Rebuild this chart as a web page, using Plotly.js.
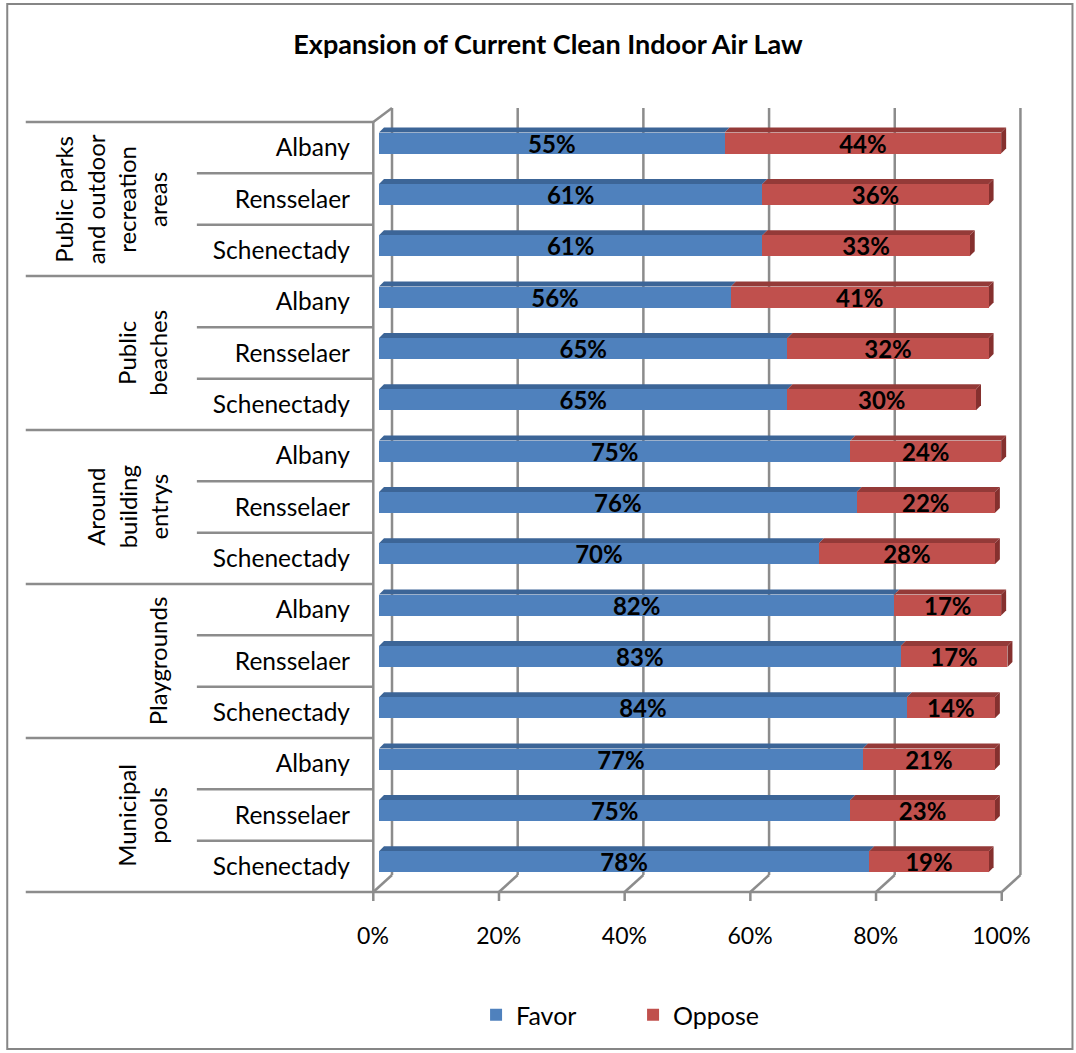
<!DOCTYPE html>
<html>
<head>
<meta charset="utf-8">
<script src="https://cdn.plot.ly/plotly-3.0.1.min.js"></script>
<style>html,body{margin:0;padding:0;background:#fff;}#chart{width:1076px;height:1053px;}</style>
</head>
<body>
<div id="chart"></div>
<script>
// ---- data ----
const groups = ["Public parks and outdoor recreation areas", "Public beaches", "Around building entrys", "Playgrounds", "Municipal pools"];
const groupLabels = ["Public parks<br>and outdoor<br>recreation<br>areas", "Public<br>beaches", "Around<br>building<br>entrys", "Playgrounds", "Municipal<br>pools"];
const cities = ["Albany", "Rensselaer", "Schenectady"];
const favor  = [55, 61, 61, 56, 65, 65, 75, 76, 70, 82, 83, 84, 77, 75, 78];
const oppose = [44, 36, 33, 41, 32, 30, 24, 22, 28, 17, 17, 14, 21, 23, 19];
const xTicks = [0, 20, 40, 60, 80, 100];

// ---- geometry / style ----
const W = 1076, H = 1053;
const ML = 379, MT = 122, MB = 161;
const XMAX = 102, UNIT = 6.28;               // px per percentage point
const plotW = XMAX * UNIT;
const MR = W - ML - plotW;
const plotH = H - MT - MB;
const px2x = p => (p - ML) / plotW;
const px2y = p => (H - MB - p) / plotH;
const FONT = "Lato, 'Open Sans', sans-serif";
const GRID = "#8c8c8c";
const BLUE = "#4f81bd", BLUE_TOP = "#3c6597";
const RED = "#c0504d", RED_TOP = "#943a38", RED_END = "#85302e";

const rows = [], tickText = [];
groups.forEach((g, gi) => cities.forEach((c, ci) => { rows.push(gi * 3 + ci); tickText.push(c); }));
const nRows = rows.length;
const rowPx = plotH / nRows;
const BARW = 21 / rowPx;         // bar thickness in rows
const LIFT = 4.6 / rowPx;        // bars sit slightly above row centres (3D depth)

const labelFont = {family: FONT, size: 24, color: "#000", weight: "bold"};
const traces = [
  {type: "bar", orientation: "h", name: "Favor", y: rows, x: favor,
   marker: {color: BLUE}, width: BARW, offset: -BARW / 2 - LIFT,
   text: favor.map(v => v + "%"), textposition: "inside", insidetextanchor: "middle",
   constraintext: "none", textfont: labelFont, hoverinfo: "skip"},
  {type: "bar", orientation: "h", name: "Oppose", y: rows, x: oppose,
   marker: {color: RED}, width: BARW, offset: -BARW / 2 - LIFT,
   text: oppose.map(v => v + "%"), textposition: "inside", insidetextanchor: "middle",
   constraintext: "none", textfont: labelFont, hoverinfo: "skip"}
];

const shapes = [];
const line = (x0, y0, x1, y1, w) => shapes.push({type: "line", xref: "paper", yref: "paper", layer: "below",
  x0: px2x(x0), y0: px2y(y0), x1: px2x(x1), y1: px2y(y1), line: {color: GRID, width: w || 2.5}});

// outer chart border
shapes.push({type: "rect", xref: "paper", yref: "paper", layer: "below",
  x0: px2x(7.5), x1: px2x(1072), y0: px2y(4), y1: px2y(1049), line: {color: "#868686", width: 2}});

// category table lines
const frontX = v => ML - 5.7 + UNIT * v;     // front plane
const backX = v => ML + 13 + UNIT * v;       // back wall
for (let k = 0; k <= nRows; k++) {
  const yy = MT + k * rowPx;
  line(k % 3 === 0 ? 26 : 197, yy, frontX(0), yy);
}
line(frontX(0), MT, frontX(0), H - MB + 9);
line(frontX(0), H - MB, frontX(100), H - MB);
line(frontX(0), MT, backX(0), MT - 14);
xTicks.forEach(v => {
  if (v > 0) line(frontX(v), H - MB, frontX(v), H - MB + 9);
  line(backX(v), MT - 14, backX(v), H - MB - 17);
  line(backX(v), H - MB - 17, frontX(v), H - MB);
});

// 3D top faces and end faces of bars
const DX = 5 / UNIT, DY = 5;
const topPx = rowPx * LIFT + 10.5;
rows.forEach((r, i) => {
  const a = 0, b = favor[i], c = favor[i] + oppose[i];
  const face = (x0, x1, col) => shapes.push({type: "path", xref: "x", yref: "y", ysizemode: "pixel", yanchor: r, layer: "below",
    path: `M${x0},${topPx} L${x0 + DX},${topPx + DY} L${x1 + DX},${topPx + DY} L${x1},${topPx} Z`,
    fillcolor: col, line: {width: 0}});
  face(a, b, BLUE_TOP);
  face(b, c, RED_TOP);
  shapes.push({type: "path", xref: "x", yref: "y", ysizemode: "pixel", yanchor: r, layer: "below",
    path: `M${c},${topPx} L${c + DX},${topPx + DY} L${c + DX},${topPx + DY - 21} L${c},${topPx - 21} Z`,
    fillcolor: RED_END, line: {width: 0}});
});

// group labels
const annotations = groupLabels.map((g, gi) => ({
  xref: "paper", yref: "y", x: px2x(174), y: gi * 3 + 1, xanchor: "right", yanchor: "middle",
  text: g, textangle: -90, showarrow: false, align: "center",
  font: {family: FONT, size: 24, color: "#000"}
}));

const layout = {
  width: W, height: H,
  margin: {l: ML, r: MR, t: MT, b: MB, pad: 0},
  paper_bgcolor: "#fff", plot_bgcolor: "rgba(0,0,0,0)",
  barmode: "stack", showlegend: true, hovermode: false,
  title: {text: "<b>Expansion of Current Clean Indoor Air Law</b>", xref: "container", yref: "container",
    x: 548 / W, y: 1 - 45 / H, xanchor: "center", yanchor: "middle",
    font: {family: FONT, size: 27, color: "#000"}},
  xaxis: {range: [0, XMAX], tickvals: xTicks, ticktext: xTicks.map(v => v + "%"),
    showgrid: false, zeroline: false, showline: false, ticks: "",
    ticklabelstandoff: 28, ticklabelshift: -6,
    tickfont: {family: FONT, size: 23, color: "#000"}},
  yaxis: {range: [nRows - 0.5, -0.5], tickmode: "array", tickvals: rows, ticktext: tickText,
    showgrid: false, zeroline: false, showline: false, ticks: "",
    ticklabelstandoff: 28, tickfont: {family: FONT, size: 24.5, color: "#000"}},
  legend: {orientation: "h", x: px2x(476), y: px2y(1015), xanchor: "left", yanchor: "middle",
    font: {family: FONT, size: 25, color: "#000"}, entrywidth: 112, traceorder: "normal"},
  shapes: shapes, annotations: annotations
};

Plotly.newPlot("chart", traces, layout, {displayModeBar: false, staticPlot: true});
</script>
</body>
</html>
